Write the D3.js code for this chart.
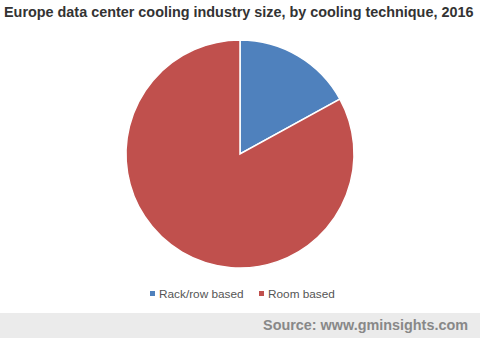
<!DOCTYPE html>
<html lang="en">
<head>
<meta charset="UTF-8"/>
<title>Europe data center cooling</title>
<script src="https://d3js.org/d3.v7.min.js"></script>
<style>
  body { margin: 0; background: #fff; }
  svg { display: block; font-family: "Liberation Sans", Arial, sans-serif; }
</style>
</head>
<body>
<svg id="chart" width="480" height="338"></svg>
<script>
const categories = ['Rack/row based', 'Room based']
const shares = [17, 83]
const colors = ['#4f81bd', '#c0504d']

const svg = d3.select('#chart')
const width = 480, height = 338

svg.append('text')
  .attr('x', 4)
  .attr('y', 17)
  .attr('font-size', 14.4)
  .attr('font-weight', 'bold')
  .attr('fill', '#333')
  .text('Europe data center cooling industry size, by cooling technique, 2016')

const radius = 114
const pieG = svg.append('g').attr('transform', `translate(240, 154)`)

const pie = d3.pie().sort(null).value((d) => d)
const arc = d3.arc().innerRadius(0).outerRadius(radius)

pieG.selectAll('path')
  .data(pie(shares))
  .enter()
  .append('path')
  .attr('d', arc)
  .attr('fill', (d, i) => colors[i])
  .attr('stroke', '#fff')
  .attr('stroke-width', 1.5)

// legend
const legend = svg.append('g').attr('transform', 'translate(0, 294)')
const items = legend.selectAll('g')
  .data(categories)
  .enter()
  .append('g')
  .attr('transform', (d, i) => `translate(${[150, 259][i]}, 0)`)

items.append('rect')
  .attr('x', 0)
  .attr('y', -3)
  .attr('width', 5)
  .attr('height', 5)
  .attr('fill', (d, i) => colors[i])

items.append('text')
  .attr('x', 9)
  .attr('y', 0)
  .attr('dy', '0.35em')
  .attr('font-size', 11.8)
  .attr('fill', '#555')
  .text((d) => d)

// footer
svg.append('rect')
  .attr('x', 0)
  .attr('y', 313)
  .attr('width', width)
  .attr('height', height - 313)
  .attr('fill', '#ebebeb')

svg.append('text')
  .attr('x', 468)
  .attr('y', 330)
  .attr('text-anchor', 'end')
  .attr('font-size', 14.4)
  .attr('font-weight', 'bold')
  .attr('fill', '#888')
  .text('Source: www.gminsights.com')
</script>
</body>
</html>
